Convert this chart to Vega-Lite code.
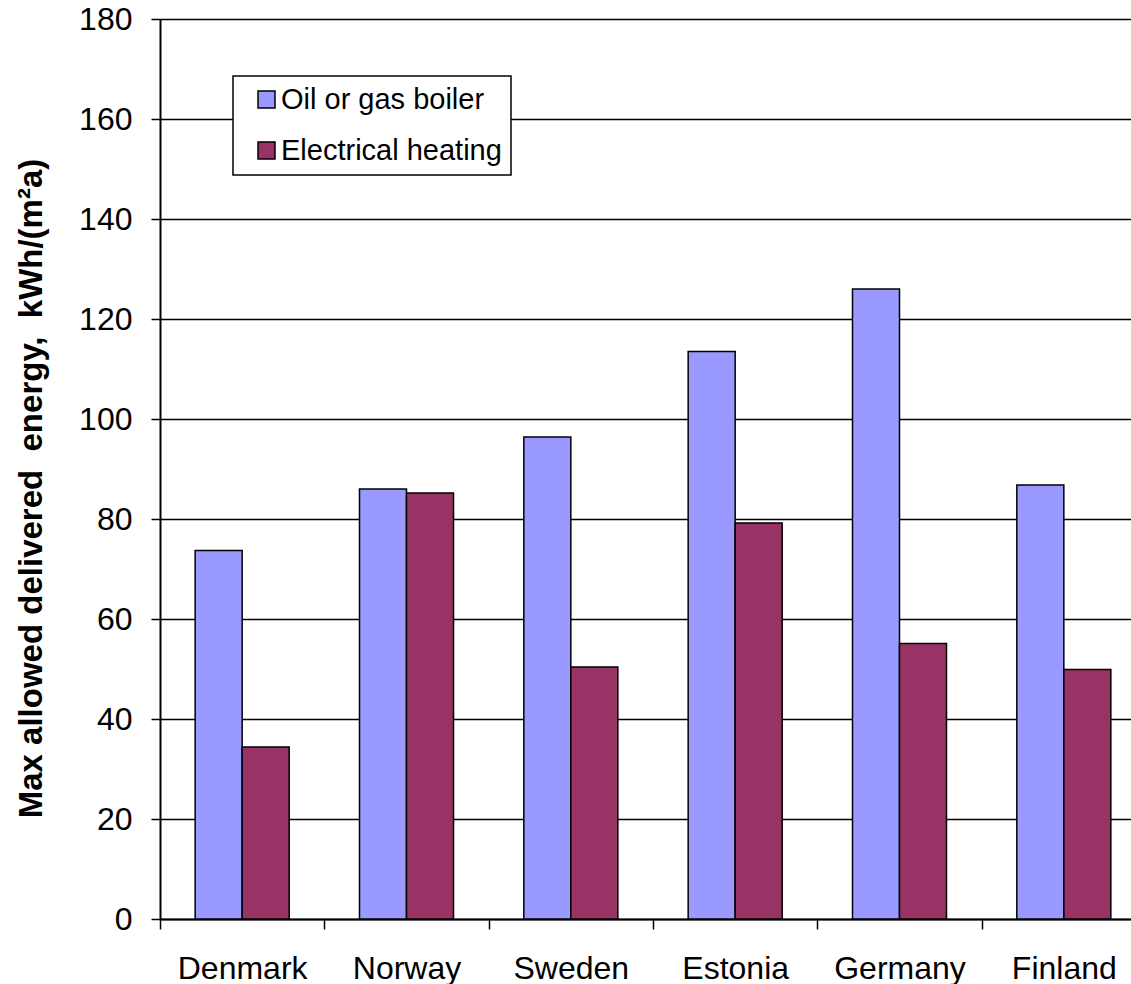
{
  "$schema": "https://vega.github.io/schema/vega-lite/v6.json",
  "autosize": {"type": "none"},
  "padding": {"left": 160, "top": 19, "right": 0, "bottom": 65},
  "width": 971,
  "height": 900,
  "background": "white",
  "data": {
    "values": [
      {"country": "Denmark", "system": "Oil or gas boiler", "energy": 73.7},
      {"country": "Denmark", "system": "Electrical heating", "energy": 34.4},
      {"country": "Norway", "system": "Oil or gas boiler", "energy": 86.0},
      {"country": "Norway", "system": "Electrical heating", "energy": 85.2},
      {"country": "Sweden", "system": "Oil or gas boiler", "energy": 96.4},
      {"country": "Sweden", "system": "Electrical heating", "energy": 50.4},
      {"country": "Estonia", "system": "Oil or gas boiler", "energy": 113.5},
      {"country": "Estonia", "system": "Electrical heating", "energy": 79.2},
      {"country": "Germany", "system": "Oil or gas boiler", "energy": 126.0},
      {"country": "Germany", "system": "Electrical heating", "energy": 55.1},
      {"country": "Finland", "system": "Oil or gas boiler", "energy": 86.8},
      {"country": "Finland", "system": "Electrical heating", "energy": 49.9}
    ]
  },
  "mark": {"type": "bar", "stroke": "black", "strokeWidth": 1.5},
  "encoding": {
    "x": {
      "field": "country",
      "type": "nominal",
      "sort": null,
      "scale": {"range": [0, 986], "paddingInner": 0, "paddingOuter": 0},
      "axis": {
        "title": null,
        "labelAngle": 0,
        "labelFont": "Liberation Sans",
        "labelFontSize": 32,
        "labelColor": "black",
        "labelPadding": 24,
        "tickBand": "extent",
        "tickSize": 10,
        "tickColor": "black",
        "tickWidth": 1.5,
        "domainColor": "black",
        "domainWidth": 2,
        "grid": false
      }
    },
    "xOffset": {
      "field": "system",
      "type": "nominal",
      "sort": ["Oil or gas boiler", "Electrical heating"],
      "scale": {"paddingInner": 0, "paddingOuter": 0.748}
    },
    "y": {
      "field": "energy",
      "type": "quantitative",
      "scale": {"domain": [0, 180], "nice": false},
      "axis": {
        "title": "Max allowed delivered\u00a0 energy,\u00a0 kWh/(m²a)",
        "titleFont": "Liberation Sans",
        "titleFontSize": 33,
        "titleFontWeight": "bold",
        "titleColor": "black",
        "titleBaseline": "alphabetic",
        "titleX": -119,
        "titleY": 469,
        "values": [0, 20, 40, 60, 80, 100, 120, 140, 160, 180],
        "labelFont": "Liberation Sans",
        "labelFontSize": 32,
        "labelColor": "black",
        "labelPadding": 19,
        "tickSize": 9,
        "tickColor": "black",
        "tickWidth": 1.5,
        "domainColor": "black",
        "domainWidth": 2,
        "grid": true,
        "gridColor": "black",
        "gridWidth": 1.3
      }
    },
    "color": {
      "field": "system",
      "type": "nominal",
      "sort": ["Oil or gas boiler", "Electrical heating"],
      "scale": {
        "domain": ["Oil or gas boiler", "Electrical heating"],
        "range": ["#9999FF", "#993366"]
      },
      "legend": {
        "title": null,
        "orient": "none",
        "legendX": 73,
        "legendY": 57,
        "padding": 9,
        "fillColor": "white",
        "strokeColor": "black",
        "symbolType": "square",
        "symbolSize": 289,
        "symbolOffset": 10,
        "symbolStrokeColor": "black",
        "symbolStrokeWidth": 1.5,
        "symbolOpacity": 1,
        "labelFont": "Liberation Sans",
        "labelFontSize": 29,
        "labelColor": "black",
        "labelOffset": 0,
        "labelLimit": 400,
        "labelExpr": "datum.label + '\u00a0\u00a0\u00a0'",
        "rowPadding": 21,
        "encode": {
          "legend": {"update": {"strokeWidth": {"value": 1.5}}}
        }
      }
    }
  },
  "config": {
    "view": {"stroke": null}
  }
}
